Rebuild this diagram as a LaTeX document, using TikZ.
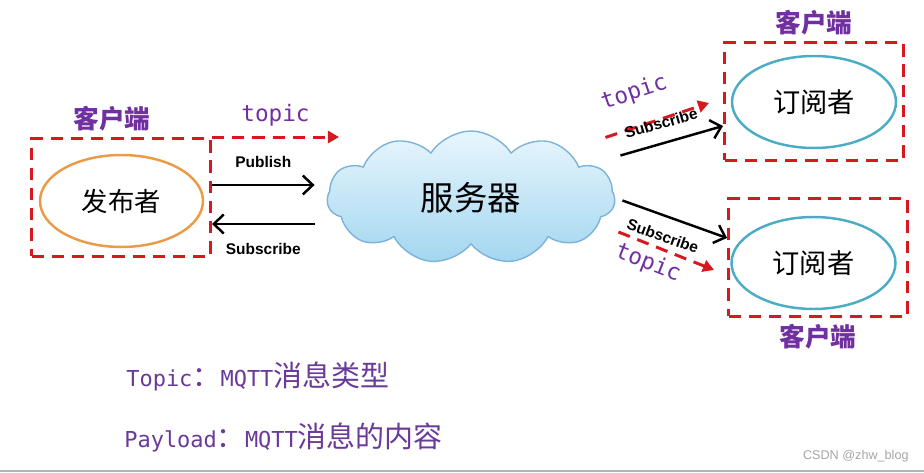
\documentclass[tikz,border=0pt]{standalone}
\usepackage{fontspec}
\setmainfont{Liberation Sans}
\newfontfamily\cjk{Noto Sans CJK SC}
\newfontfamily\monofnt{DejaVu Sans Mono}
\usepackage{xcolor}
\usepackage{tikz}
\usetikzlibrary{calc,positioning,arrows.meta,shapes.symbols,shapes.geometric}

\definecolor{dashred}{HTML}{D7191F}
\definecolor{clientpurple}{HTML}{7030A0}
\definecolor{notepurple}{HTML}{6A3A98}
\definecolor{pubor}{HTML}{EB9B46}
\definecolor{subteal}{HTML}{4BACC6}
\definecolor{cloudedge}{HTML}{7DB3D8}
\definecolor{cloudtop}{HTML}{E8F6FD}
\definecolor{cloudbot}{HTML}{A3D6F0}

\tikzset{
    clientbox/.style={draw=dashred, line width=1.7pt, dash pattern=on 7pt off 4.5pt,
        minimum width=3.58cm, minimum height=2.36cm},
    pubell/.style={ellipse, draw=pubor, line width=1.4pt, minimum width=3.26cm,
        minimum height=1.84cm, font=\cjk\fontsize{15}{18}\selectfont},
    subell/.style={ellipse, draw=subteal, line width=1.4pt, minimum width=3.28cm,
        minimum height=1.84cm, font=\cjk\fontsize{15.5}{18}\selectfont},
    clientlabel/.style={text=clientpurple, font=\cjk\bfseries\fontsize{14.6}{17}\selectfont},
    topiclabel/.style={text=clientpurple, font=\monofnt\fontsize{12.9}{15}\selectfont},
    msglabel/.style={font=\bfseries\fontsize{8.8}{10}\selectfont},
    msg/.style={line width=1.4pt, -{Straight Barb[length=2mm,width=3.8mm]}},
    topicarrow/.style={dashred, line width=1.7pt, dash pattern=on 7pt off 4.5pt,
        -{Triangle[length=2.2mm,width=2.4mm]}},
    notetext/.style={anchor=base west, inner sep=0pt, text=notepurple}
}

\begin{document}
\begin{tikzpicture}[x=0.02cm, y=-0.02cm]
    \path[fill=white] (0,0) rectangle (924,473);
    \useasboundingbox (0,0) rectangle (924,473);

    \node [clientbox] (pubbox) at (121,197.5) {};
    \node [pubell] (pub) at (121.5,201) {发布者};
    \node [clientlabel, above=0mm of pubbox, xshift=-1.8mm] (pubclient) {客户端};

    \node [cloud, cloud puffs=11, cloud puff arc=115, aspect=2.1, draw=cloudedge, line width=0.8pt,
        top color=cloudtop, bottom color=cloudbot, minimum width=5.76cm, minimum height=2.66cm,
        font=\cjk\fontsize{19}{22}\selectfont] (server) at (471,197.5) {服务器};

    \node [clientbox] (sub1box) at (814,101.5) {};
    \node [subell] (sub1) at (814,102) {订阅者};
    \node [clientlabel, above=0mm of sub1box] (sub1client) {客户端};

    \node [clientbox] (sub2box) at (818,257.5) {};
    \node [subell] (sub2) at (813.5,263) {订阅者};
    \node [clientlabel, below=0mm of sub2box] (sub2client) {客户端};

    \coordinate (pubtopic) at ($(pubbox.north east)+(127,0)$);
    \coordinate (sub1topic) at ($(sub1box.west)+(-14,1.5)$);
    \coordinate (sub2topic) at ($(sub2box.west)+(-13,12.5)$);

    \draw[topicarrow] (pubbox.north east) -- (pubtopic)
        node[midway, above=2pt, topiclabel] {topic};
    \draw[msg] ($(pubbox.east)+(0,-12.5)$) -- ($(server.west |- pubbox.east)+(-12,-12.5)$)
        node[midway, above=6pt, msglabel] {Publish};
    \draw[msg] ($(server.west |- pubbox.east)+(-12,26.5)$) -- ($(pubbox.east)+(0,26.5)$)
        node[midway, below=7pt, msglabel] {Subscribe};

    \draw[topicarrow] ($(server.east)+(-10,-60)$) -- (sub1topic)
        node[pos=0.38, sloped, above=8.5pt, topiclabel] {topic};
    \draw[msg] ($(server.east)+(5,-42)$) -- ($(sub1box.west)+(0,24.5)$)
        node[pos=0.45, sloped, above=4pt, msglabel] {Subscribe};

    \draw[msg] ($(server.east)+(7,3)$) -- ($(sub2box.west)+(0,-19.5)$)
        node[pos=0.45, sloped, below=4pt, msglabel] {Subscribe};
    \draw[topicarrow] ($(server.east)+(3,34.5)$) -- (sub2topic)
        node[pos=0.38, sloped, below=0pt, topiclabel] {topic};

    \node [notetext] (topicnote) at (126,386)
        {{\monofnt\fontsize{12.5}{15}\selectfont Topic}{\cjk\fontsize{16}{19}\selectfont ：}{\monofnt\fontsize{12.5}{15}\selectfont MQTT}{\cjk\fontsize{16.5}{19}\selectfont 消息类型}};
    \node [notetext] (payloadnote) at (124,447)
        {{\monofnt\fontsize{12.5}{15}\selectfont Payload}{\cjk\fontsize{16}{19}\selectfont ：}{\monofnt\fontsize{12.5}{15}\selectfont MQTT}{\cjk\fontsize{16.5}{19}\selectfont 消息的内容}};

    \node [anchor=base east, inner sep=0pt, text=gray!70, font=\fontsize{7.2}{9}\selectfont]
        (mark) at (909,459) {CSDN @zhw\_blog};
    \draw[gray!60, line width=1.2pt] (0,471) -- (924,471);
\end{tikzpicture}
\end{document}
